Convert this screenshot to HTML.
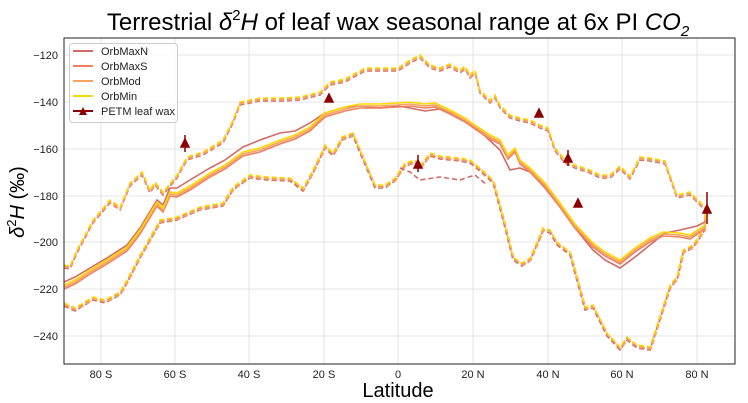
<!DOCTYPE html>
<html><head><meta charset="utf-8"><style>
body{margin:0;background:#fff;}
svg{display:block;font-family:"Liberation Sans","DejaVu Sans",sans-serif;}
</style></head><body>
<svg width="748" height="403" viewBox="0 0 748 403" xmlns="http://www.w3.org/2000/svg">
<rect width="748" height="403" fill="#fff"/>
<g stroke="#dcdcdc" stroke-width="0.8">
<line x1="101" y1="38" x2="101" y2="364"/><line x1="175" y1="38" x2="175" y2="364"/><line x1="249" y1="38" x2="249" y2="364"/><line x1="324" y1="38" x2="324" y2="364"/><line x1="398" y1="38" x2="398" y2="364"/><line x1="473" y1="38" x2="473" y2="364"/><line x1="548" y1="38" x2="548" y2="364"/><line x1="622" y1="38" x2="622" y2="364"/><line x1="697" y1="38" x2="697" y2="364"/>
<line x1="64" y1="55" x2="735" y2="55"/><line x1="64" y1="102" x2="735" y2="102"/><line x1="64" y1="149" x2="735" y2="149"/><line x1="64" y1="196" x2="735" y2="196"/><line x1="64" y1="242" x2="735" y2="242"/><line x1="64" y1="289" x2="735" y2="289"/><line x1="64" y1="336" x2="735" y2="336"/>
</g>
<defs>
<polyline id="up" fill="none" points="64,265 70,266 77,250 93,220 110,200 120,207 130,183 142,172 150,190 155,182 163,192 177,175 187,157 203,152 223,140 233,120 240,102 260,98 280,98 300,97 320,92 330,82 345,79 365,68 380,68 398,68 410,60 420,55 430,65 440,68 450,64 460,70 465,66 470,75 475,70 480,90 490,100 495,95 500,105 510,115 520,118 530,120 540,125 548,128 555,148 565,160 575,165 590,170 600,175 610,175 620,166 630,176 640,157 650,158 665,161 677,195 690,192 705,207 705,225"/>
<polyline id="lo" fill="none" points="64,303 75,308 93,297 105,300 120,292 127,280 140,255 160,220 177,217 200,207 223,203 233,187 250,175 267,177 290,178 303,188 313,170 325,145 333,153 342,137 353,133 360,150 375,185 385,185 395,178 405,163 415,160 420,166 430,153 440,156 460,158 470,160 480,168 493,180 503,217 513,257 522,263 530,258 543,228 550,230 557,242 570,252 585,307 593,305 607,333 620,347 627,337 637,345 650,347 670,285 677,277 683,250 693,245 705,227"/>
<polyline id="mn" fill="none" points="64,285 75,280 90,270 107,260 127,247 140,230 157,202 163,208 170,192 177,193 190,186 210,173 225,165 243,152 260,148 280,140 295,135 310,127 325,113 345,107 360,104 380,104 398,103 410,102 425,104 435,103 450,110 465,118 475,125 490,135 500,140 508,155 515,148 520,160 530,168 545,183 560,203 575,224 593,243 605,252 620,260 635,248 650,238 663,232 680,233 690,235 705,225"/>
</defs>
<g stroke-width="1.6">
<use href="#up" stroke="#d26a65" stroke-dasharray="5,3" transform="translate(0,3)"/>
<use href="#up" stroke="#f08060" stroke-dasharray="5,3" transform="translate(0,1)"/>
<use href="#up" stroke="#f4a460" stroke-dasharray="5,3" transform="translate(0,2)"/>
<use href="#up" stroke="#ffd700" stroke-dasharray="5,3" transform="translate(0,0)"/>
<use href="#lo" stroke="#d26a65" stroke-dasharray="5,3" transform="translate(0,3)"/>
<use href="#lo" stroke="#f08060" stroke-dasharray="5,3" transform="translate(0,1)"/>
<use href="#lo" stroke="#f4a460" stroke-dasharray="5,3" transform="translate(1,2)"/>
<use href="#lo" stroke="#ffd700" stroke-dasharray="5,3"/>
<polyline fill="none" stroke="#d26a65" stroke-width="1.6" stroke-dasharray="5,3" points="400,168 410,172 420,180 440,177 460,180 475,175 487,185"/>
<polyline fill="none" stroke="#d26a65" points="64,282 75,277 90,268 107,258 127,245 140,228 157,200 163,205 170,188 177,188 190,180 210,168 225,160 243,147 260,140 280,133 295,131 310,123 325,113 345,107 360,106 380,108 398,106 410,108 425,111 440,109 455,115 470,124 485,136 500,150 510,170 520,168 530,172 545,188 560,207 575,228 593,250 605,260 620,268 635,257 650,245 665,233 680,230 697,226 705,222"/>
<use href="#mn" stroke="#f08060" transform="translate(0,4)"/>
<use href="#mn" stroke="#f4a460" transform="translate(0,2)"/>
<use href="#mn" stroke="#ffd700"/>
</g>
<g fill="#8b0000" stroke="#8b0000" stroke-width="1.5">
<line x1="185" y1="135" x2="185" y2="152"/><polygon points="185,139 181,147 189,147"/>
<polygon points="329,94 325,102 333,102"/>
<line x1="418" y1="155" x2="418" y2="172"/><polygon points="418,160 414,168 422,168"/>
<polygon points="539,109 535,117 543,117"/>
<line x1="568" y1="150" x2="568" y2="166"/><polygon points="568,154 564,162 572,162"/>
<polygon points="578,199 574,207 582,207"/>
<line x1="707" y1="192" x2="707" y2="224"/><polygon points="707,205 703,213 711,213"/>
</g>
<rect x="64" y="38" width="671" height="326" fill="none" stroke="#222" stroke-width="1"/>
<g font-size="11" fill="#222" text-anchor="end">
<text x="58" y="59">−120</text><text x="58" y="106">−140</text><text x="58" y="153">−160</text><text x="58" y="200">−180</text><text x="58" y="246">−200</text><text x="58" y="293">−220</text><text x="58" y="340">−240</text>
</g>
<g font-size="11" fill="#222" text-anchor="middle">
<text x="101" y="378">80 S</text><text x="175" y="378">60 S</text><text x="249" y="378">40 S</text><text x="324" y="378">20 S</text><text x="398" y="378">0</text><text x="473" y="378">20 N</text><text x="548" y="378">40 N</text><text x="622" y="378">60 N</text><text x="697" y="378">80 N</text>
</g>
<text x="398" y="397" font-size="20" text-anchor="middle" fill="#000">Latitude</text>
<text transform="translate(24,202) rotate(-90)" font-size="20" text-anchor="middle" fill="#000"><tspan font-style="italic">δ</tspan><tspan font-size="13" dy="-8">2</tspan><tspan font-style="italic" dy="8">H</tspan> (‰)</text>
<text x="398" y="30" font-size="24" text-anchor="middle" fill="#000">Terrestrial <tspan font-style="italic">δ</tspan><tspan font-size="15" dy="-10">2</tspan><tspan font-style="italic" dy="10">H</tspan> of leaf wax seasonal range at 6x PI <tspan font-style="italic">CO</tspan><tspan font-size="15" dy="6" font-style="italic">2</tspan></text>
<g>
<rect x="69.5" y="43.5" width="108" height="79" rx="3" fill="#fff" fill-opacity="0.85" stroke="#ccc"/>
<g stroke-width="2">
<line x1="73" y1="51" x2="93" y2="51" stroke="#d26a65"/>
<line x1="73" y1="66" x2="93" y2="66" stroke="#f08060"/>
<line x1="73" y1="81" x2="93" y2="81" stroke="#f4a460"/>
<line x1="73" y1="96" x2="93" y2="96" stroke="#ffd700"/>
<line x1="73" y1="111" x2="93" y2="111" stroke="#8b0000"/>
</g>
<polygon points="83,107 79,115 87,115" fill="#8b0000"/>
<g font-size="11" fill="#222">
<text x="101" y="55">OrbMaxN</text><text x="101" y="70">OrbMaxS</text><text x="101" y="85">OrbMod</text><text x="101" y="100">OrbMin</text><text x="101" y="115">PETM leaf wax</text>
</g>
</g>
</svg>
</body></html>
